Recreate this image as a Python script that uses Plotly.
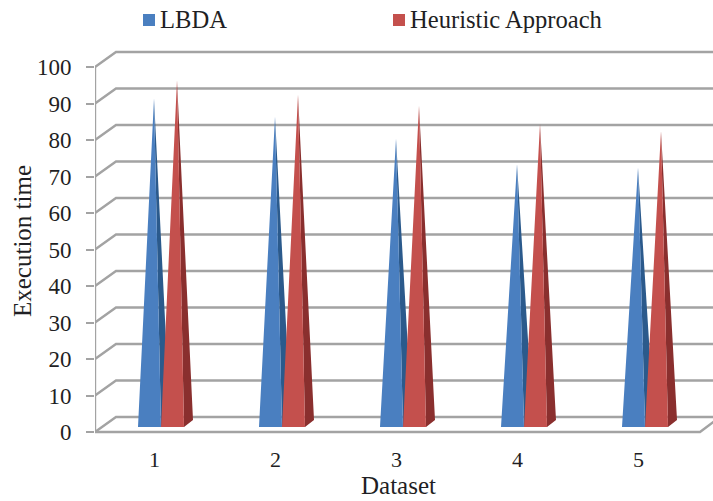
import plotly.graph_objects as go

categories = [1, 2, 3, 4, 5]
lbda = [90, 85, 79, 72, 71]
heuristic = [95, 91, 88, 83, 81]
y_ticks = [0, 10, 20, 30, 40, 50, 60, 70, 80, 90, 100]

W, H = 713, 501
AX_L, AX_B, AX_T = 95, 437, 45         # plot area in px
C_PX, C_STEP = 154.5, 121.0             # px of category 1, px per category
V0_PX, V_STEP = 432.0, 3.65             # px of value 0, px per unit

def cx(px):
    return 1 + (px - C_PX) / C_STEP

def vy(px):
    return (V0_PX - px) / V_STEP

def xp(px):
    return px / W

def yp(px):
    return 1 - px / H

dx = lambda px: px / C_STEP
dv = lambda px: px / V_STEP

GRID = "#a3a3a3"
fig = go.Figure()

# walls
wall_x, wall_y = [], []
back_x0, back_dv = cx(116), dv(15)
front_x0 = cx(AX_L)
for t in y_ticks:
    wall_x += [front_x0, back_x0, cx(W + 5), None]
    wall_y += [t, t + back_dv, t + back_dv, None]
fig.add_trace(go.Scatter(x=wall_x, y=wall_y, mode="lines", line=dict(color=GRID, width=2.4),
                         hoverinfo="skip", showlegend=False))
fig.add_trace(go.Scatter(x=[front_x0, front_x0, cx(700), cx(W + 3)],
                         y=[100, 0, 0, dv(12)], mode="lines",
                         line=dict(color=GRID, width=2.4), hoverinfo="skip", showlegend=False))

# pyramids
BASE_V = dv(5)
DEPTH_X, DEPTH_V = dx(9), dv(7)

def faces(values, left_px, right_px, apex_px):
    fx, fy, sx, sy = [], [], [], []
    for c, v in zip(categories, values):
        l, r, a = c + dx(left_px), c + dx(right_px), c + dx(apex_px)
        top = BASE_V + v
        fx += [l, r, a, l, None]
        fy += [BASE_V, BASE_V, top, BASE_V, None]
        sx += [r, r + DEPTH_X, a, r, None]
        sy += [BASE_V, BASE_V + DEPTH_V, top, BASE_V, None]
    return fx, fy, sx, sy

series = [
    ("LBDA", lbda, -16.5, 6.5, -0.5, "#4a7fc0", "#2b5a8c"),
    ("Heuristic Approach", heuristic, 6.5, 29.5, 22.5, "#c4504d", "#8a2f2e"),
]
for name, vals, lp, rp, ap, col, dark in series:
    fx, fy, sx, sy = faces(vals, lp, rp, ap)
    fig.add_trace(go.Scatter(x=sx, y=sy, fill="toself", fillcolor=dark, mode="none",
                             name=name + " side", showlegend=False, hoverinfo="skip"))
    fig.add_trace(go.Scatter(x=fx, y=fy, fill="toself", fillcolor=col, mode="none",
                             name=name, showlegend=False))

FONT = "Liberation Serif"
INK = "#1f1f24"

# legend and axis titles placed in paper space
for sx0, col, tx, label in [(143, "#4a7fc0", 158, "LBDA"), (393, "#c4504d", 408, "Heuristic Approach")]:
    fig.add_shape(type="rect", xref="paper", yref="paper", x0=xp(sx0), x1=xp(sx0 + 12),
                  y0=yp(26), y1=yp(14), fillcolor=col, line_width=0)
    fig.add_annotation(xref="paper", yref="paper", x=xp(tx), y=yp(20), text=label,
                       showarrow=False, xanchor="left", yanchor="middle",
                       font=dict(family=FONT, size=24.6, color=INK))
fig.add_annotation(xref="paper", yref="paper", x=xp(398), y=yp(485.5), text="Dataset",
                   showarrow=False, xanchor="center", yanchor="middle", borderpad=0,
                   font=dict(family=FONT, size=25, color=INK))
fig.add_annotation(xref="paper", yref="paper", x=xp(22), y=yp(241), text="Execution time",
                   textangle=-90, showarrow=False, xanchor="center", yanchor="middle",
                   font=dict(family=FONT, size=25, color=INK))

fig.update_layout(
    width=W, height=H, autosize=False,
    margin=dict(l=0, r=0, t=0, b=0),
    paper_bgcolor="white", plot_bgcolor="white",
    showlegend=False,
    font=dict(family=FONT, color=INK),
    xaxis=dict(domain=[xp(AX_L), 1], range=[cx(AX_L), cx(W)], automargin=False,
               tickmode="array", tickvals=categories, ticktext=[str(c) for c in categories],
               showgrid=False, zeroline=False, showline=False,
               ticks="outside", ticklen=3, tickcolor="rgba(0,0,0,0)",
               tickfont=dict(size=22, family=FONT, color=INK)),
    yaxis=dict(domain=[yp(AX_B), yp(AX_T)], range=[vy(AX_B), vy(AX_T)], automargin=False,
               tickmode="array", tickvals=y_ticks,
               showgrid=False, zeroline=False, showline=False,
               ticks="outside", ticklen=8, tickcolor=GRID, tickwidth=2, ticklabelstandoff=10,
               tickfont=dict(size=23, family=FONT, color=INK)),
)

fig.write_html("out.html", config={"displayModeBar": False},
               post_script="document.body.style.margin='0';document.documentElement.style.overflow='hidden';")
